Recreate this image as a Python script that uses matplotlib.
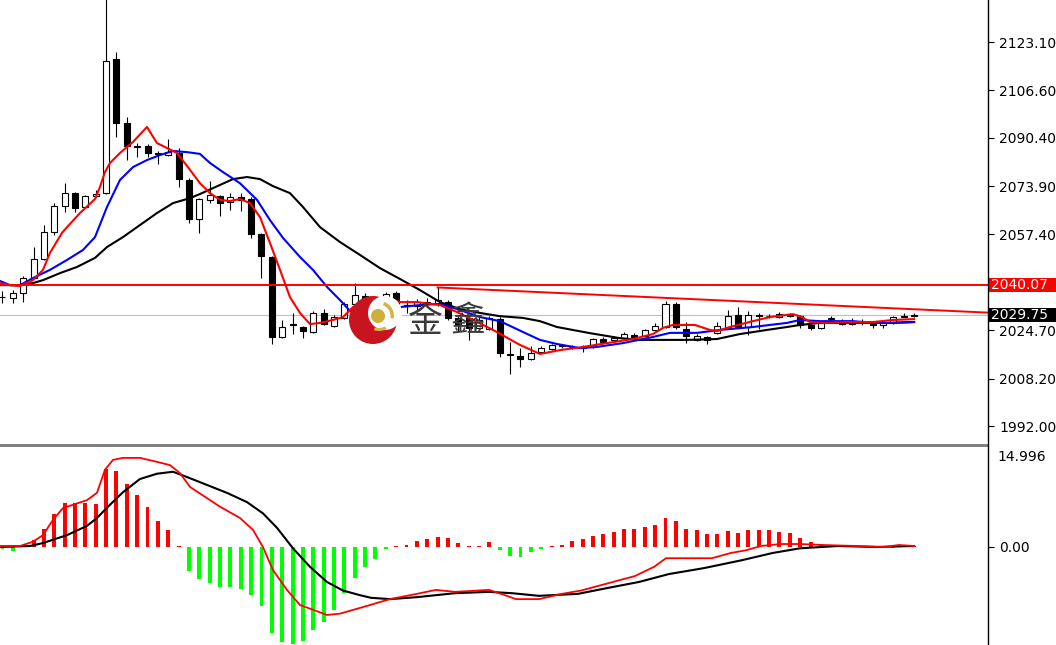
import numpy as np
import matplotlib
matplotlib.use("Agg")
import matplotlib.pyplot as plt
from matplotlib.patches import Rectangle, Circle, Wedge
from matplotlib.transforms import blended_transform_factory

# --- candles (oldest -> newest) ---
opens = [2036.0, 2035.7, 2037.4, 2042.5, 2049.0, 2058.2, 2067.1, 2071.5, 2066.8, 2070.5,
         2071.5, 2117.3, 2095.4, 2087.6, 2087.6, 2084.9, 2084.5, 2085.2, 2076.0, 2062.7,
         2069.2, 2070.5, 2068.5, 2070.2, 2069.5, 2057.6, 2049.7, 2022.4, 2026.5, 2025.8,
         2024.1, 2030.6, 2026.1, 2028.9, 2033.7, 2036.4, 2033.3, 2034.3, 2037.4, 2033.0,
         2033.0, 2034.0, 2033.7, 2034.3, 2028.9, 2028.9, 2025.5, 2025.1, 2028.5, 2016.2,
         2015.9, 2014.9, 2017.3, 2018.3, 2019.3, 2018.9, 2018.6, 2019.0, 2021.7, 2021.4,
         2022.0, 2023.1, 2022.7, 2024.8, 2025.8, 2033.7, 2025.1, 2021.4, 2022.4, 2023.7,
         2025.8, 2029.9, 2025.8, 2029.9, 2029.5, 2029.2, 2030.2, 2029.5, 2026.5, 2025.5,
         2028.5, 2027.8, 2026.8, 2027.8, 2027.2, 2026.5, 2027.2, 2029.2, 2029.5]
highs = [2038.1, 2038.4, 2043.2, 2053.1, 2060.6, 2068.1, 2075.0, 2071.9, 2070.9, 2072.6,
         2139.0, 2119.7, 2097.5, 2088.6, 2088.3, 2085.9, 2090.0, 2086.9, 2076.7, 2069.8,
         2075.6, 2070.9, 2071.5, 2071.5, 2070.2, 2057.9, 2050.0, 2028.2, 2030.6, 2026.1,
         2031.3, 2032.0, 2029.9, 2034.3, 2040.8, 2037.4, 2036.0, 2037.7, 2038.1, 2035.0,
         2035.5, 2035.7, 2039.3, 2035.0, 2029.5, 2029.9, 2029.5, 2029.5, 2029.2, 2020.7,
         2018.6, 2019.3, 2019.3, 2020.0, 2020.0, 2019.7, 2019.7, 2022.0, 2022.4, 2022.7,
         2024.1, 2023.7, 2025.1, 2027.2, 2034.7, 2034.3, 2027.5, 2023.4, 2022.7, 2027.5,
         2031.6, 2032.6, 2031.3, 2030.6, 2030.2, 2030.9, 2030.6, 2029.9, 2026.8, 2027.5,
         2029.5, 2028.5, 2028.9, 2028.5, 2027.5, 2027.5, 2029.5, 2030.6, 2030.6]
lows = [2034.0, 2034.0, 2034.3, 2042.2, 2048.7, 2057.2, 2065.1, 2065.1, 2066.4, 2070.2,
        2071.2, 2090.7, 2082.8, 2083.8, 2083.8, 2081.4, 2084.2, 2073.6, 2061.3, 2057.9,
        2068.1, 2063.7, 2065.7, 2065.4, 2056.2, 2042.5, 2020.0, 2022.0, 2023.4, 2022.0,
        2023.7, 2026.5, 2025.8, 2028.5, 2033.3, 2031.6, 2031.0, 2034.0, 2030.9, 2030.6,
        2031.5, 2033.0, 2033.0, 2028.2, 2024.1, 2021.4, 2024.5, 2024.8, 2015.6, 2009.8,
        2012.1, 2014.5, 2016.9, 2017.9, 2018.6, 2018.3, 2017.3, 2018.6, 2020.3, 2021.0,
        2021.7, 2022.0, 2022.4, 2024.4, 2025.5, 2025.1, 2020.3, 2021.0, 2020.0, 2023.4,
        2025.5, 2025.5, 2023.1, 2025.1, 2028.9, 2028.9, 2029.2, 2025.5, 2024.8, 2025.1,
        2027.8, 2026.5, 2026.5, 2026.5, 2025.5, 2025.5, 2026.8, 2029.2, 2029.2]
closes = [2036.1, 2037.4, 2042.5, 2049.0, 2058.2, 2067.1, 2071.5, 2066.4, 2070.5, 2071.2,
          2116.6, 2095.4, 2087.6, 2087.3, 2085.2, 2085.2, 2085.5, 2076.3, 2062.7, 2069.5,
          2070.9, 2068.1, 2070.2, 2069.2, 2057.6, 2050.0, 2022.4, 2025.8, 2026.8, 2024.4,
          2030.6, 2026.8, 2029.2, 2033.7, 2036.7, 2033.3, 2034.5, 2037.1, 2033.0, 2033.3,
          2034.3, 2034.3, 2035.0, 2028.9, 2026.5, 2025.5, 2028.2, 2028.9, 2017.0, 2016.6,
          2014.9, 2016.9, 2018.6, 2019.7, 2019.5, 2019.0, 2018.9, 2021.7, 2020.7, 2022.0,
          2023.4, 2022.4, 2024.8, 2026.1, 2033.7, 2025.8, 2022.7, 2022.7, 2021.4, 2026.1,
          2029.5, 2025.8, 2029.9, 2029.5, 2029.6, 2030.2, 2029.5, 2026.5, 2025.5, 2027.2,
          2028.9, 2026.8, 2027.8, 2027.2, 2026.5, 2027.2, 2029.2, 2029.5, 2029.75]

# --- moving averages (bar position, price) ---
ma_red_x = [-0.24, 0.72, 1.69, 2.94, 3.91, 4.58, 5.74, 6.23, 7.48, 8.93, 9.41, 9.89, 10.38,
            11.34, 12.6, 13.95, 14.91, 15.88, 16.84, 17.9, 19.06, 20.03, 21.0, 21.96, 22.92,
            23.89, 24.86, 25.82, 26.79, 27.75, 28.72, 29.68, 30.65, 31.9, 32.87, 33.83, 35.18,
            37.11, 38.37, 40.0, 42.23, 43.87, 45.42, 47.35, 49.95, 51.88, 53.81, 56.03, 58.35,
            60.86, 62.79, 63.76, 64.72, 66.84, 68.29, 68.97, 70.22, 72.44, 74.08, 76.3, 77.17,
            77.95, 79.58, 81.52, 84.02, 85.95, 88.0]
ma_red_y = [2040.8, 2040.1, 2039.8, 2041.8, 2045.3, 2051.1, 2057.9, 2059.9, 2064.7, 2069.5,
            2073.6, 2078.7, 2081.8, 2085.2, 2089.0, 2094.1, 2088.6, 2086.9, 2085.2, 2080.4,
            2074.9, 2071.5, 2069.2, 2068.8, 2069.5, 2068.1, 2063.3, 2054.5, 2045.3, 2036.0,
            2030.6, 2026.8, 2027.2, 2028.2, 2029.2, 2032.6, 2035.0, 2035.7, 2034.3, 2034.3,
            2033.3, 2030.9, 2028.2, 2024.8, 2019.7, 2016.6, 2017.9, 2019.0, 2020.3, 2021.7,
            2023.4, 2025.5, 2026.5, 2026.5, 2024.8, 2024.4, 2025.8, 2027.8, 2029.2, 2030.2,
            2029.2, 2027.5, 2027.2, 2027.5, 2027.5, 2028.2, 2028.5]

ma_blue_x = [-0.24, 0.72, 1.69, 2.94, 4.58, 6.23, 7.77, 8.93, 10.09, 11.34, 12.6, 13.95,
             15.2, 16.46, 17.81, 19.06, 20.03, 21.28, 22.92, 24.57, 25.82, 27.08, 28.72,
             29.97, 31.32, 32.58, 33.54, 34.99, 36.73, 38.37, 40.3, 42.23, 44.16, 46.09,
             48.02, 50.24, 51.88, 53.52, 55.74, 57.38, 59.89, 62.79, 64.43, 67.04, 69.26,
             72.44, 75.72, 76.98, 78.91, 82.1, 84.02, 85.95, 88.0]
ma_blue_y = [2041.5, 2040.1, 2040.1, 2042.5, 2045.3, 2048.7, 2052.1, 2056.5, 2066.8, 2076.0,
             2080.4, 2082.8, 2084.5, 2085.9, 2085.5, 2084.9, 2081.8, 2078.7, 2074.9, 2069.2,
             2062.3, 2056.2, 2049.7, 2045.3, 2039.5, 2035.0, 2031.3, 2030.9, 2031.6, 2032.6,
             2033.3, 2033.7, 2031.6, 2029.2, 2027.8, 2024.1, 2021.4, 2020.0, 2018.6, 2019.0,
             2020.3, 2022.4, 2023.8, 2023.8, 2024.8, 2025.8, 2027.2, 2028.2, 2027.8, 2027.8,
             2027.2, 2027.2, 2027.5]

ma_black_x = [-0.24, 1.69, 2.94, 3.91, 5.55, 7.19, 8.93, 10.09, 11.63, 13.27, 14.91, 16.46,
              18.1, 19.06, 21.0, 22.25, 23.6, 24.86, 26.11, 27.75, 29.0, 30.65, 32.58, 34.51,
              36.44, 38.37, 40.3, 42.23, 44.16, 46.09, 48.02, 50.24, 51.88, 53.52, 56.71,
              59.6, 61.53, 63.47, 66.07, 68.97, 71.19, 73.79, 75.72, 76.98, 78.91, 82.1,
              85.38, 88.0]
ma_black_y = [2040.1, 2040.1, 2040.8, 2041.8, 2044.2, 2046.3, 2049.4, 2053.1, 2056.5, 2060.6,
              2064.7, 2068.1, 2069.8, 2071.2, 2074.3, 2076.3, 2077.0, 2076.3, 2073.9, 2071.5,
              2066.8, 2059.9, 2054.8, 2050.4, 2045.9, 2042.2, 2038.4, 2034.3, 2031.9, 2030.6,
              2029.5, 2028.9, 2027.8, 2025.8, 2023.7, 2022.0, 2021.4, 2021.4, 2021.4, 2021.7,
              2023.4, 2024.8, 2025.8, 2026.5, 2027.2, 2027.2, 2027.2, 2027.5]

# --- MACD window ---
hist = [-0.3, -0.6, 0.2, 1.0, 2.7, 5.0, 6.6, 6.6, 6.7, 6.5,
        11.8, 11.5, 9.6, 7.9, 6.0, 4.0, 2.5, 0.1, -3.6, -4.8,
        -5.5, -6.0, -6.0, -6.3, -7.2, -8.9, -13.0, -14.4, -14.7, -14.3,
        -12.6, -11.3, -9.5, -7.0, -4.7, -3.1, -1.8, -0.3, 0.1, 0.3,
        0.9, 1.2, 1.5, 1.3, 0.6, 0.2, 0.2, 0.7, -0.4, -1.3,
        -1.5, -0.8, -0.3, 0.1, 0.3, 0.9, 1.2, 1.7, 2.0, 2.3,
        2.8, 2.8, 3.0, 3.4, 4.4, 3.9, 2.8, 2.5, 1.9, 2.0,
        2.4, 2.1, 2.5, 2.6, 2.5, 2.3, 2.1, 1.4, 0.8, 0.5,
        0.35, 0.2, 0.15, 0.1, 0.05, -0.2, -0.1, 0.1, 0.15]

macd_red_x = [-0.24, 1.69, 2.94, 3.91, 4.87, 5.84, 7.19, 8.16, 9.12, 9.89, 10.67, 11.63,
              13.27, 14.91, 16.17, 17.13, 18.1, 19.74, 21.0, 22.92, 24.18, 25.14, 26.11,
              27.46, 28.72, 29.97, 31.32, 32.58, 34.8, 37.4, 40.0, 41.84, 43.68, 46.96,
              48.5, 49.57, 51.79, 54.0, 55.84, 58.45, 61.05, 62.9, 64.05, 68.48, 70.32,
              71.77, 73.21, 75.14, 76.98, 79.2, 82.48, 85.09, 86.54, 88.0]
macd_red_y = [0.15, 0.15, 0.8, 1.8, 4.1, 5.9, 6.6, 7.1, 8.2, 11.7, 13.2, 13.5,
              13.5, 12.9, 12.4, 11.2, 9.1, 7.4, 6.1, 4.4, 2.6, 0.0, -3.5,
              -6.5, -8.8, -9.5, -10.3, -10.1, -9.1, -7.9, -7.1, -6.5, -6.8, -6.5,
              -7.3, -7.9, -7.9, -7.1, -6.6, -5.5, -4.4, -3.0, -1.7, -1.7, -0.9,
              -0.5, 0.15, 0.45, 0.45, 0.3, 0.15, 0.0, 0.3, 0.15]

macd_black_x = [-0.24, 2.65, 3.91, 6.23, 8.16, 9.12, 10.38, 11.63, 13.27, 14.91, 16.46,
                17.81, 19.74, 21.67, 23.6, 25.14, 26.5, 28.04, 29.68, 31.32, 32.87, 34.51,
                35.57, 37.4, 40.0, 43.68, 46.96, 49.18, 51.79, 55.55, 58.45, 61.44, 64.33,
                67.71, 71.38, 74.37, 76.98, 80.65, 84.31, 88.0]
macd_black_y = [0.0, 0.15, 0.6, 1.8, 3.2, 4.4, 6.4, 8.3, 10.3, 11.1, 11.4,
                10.6, 9.4, 8.2, 6.8, 5.1, 2.9, -0.2, -3.0, -5.3, -6.6, -7.3,
                -7.7, -7.9, -7.6, -7.0, -6.8, -7.0, -7.4, -7.1, -6.2, -5.3, -4.1,
                -3.2, -2.0, -0.9, -0.2, 0.15, 0.0, 0.15]

price_ticks = [2123.10, 2106.60, 2090.40, 2073.90, 2057.40, 2040.90, 2024.70, 2008.20, 1992.00]
level_line = 2040.07
last_price = 2029.75
trend_x = [42.0, 95.2]
trend_y = [2039.3, 2030.7]
macd_top_label = "14.996"
macd_bottom_label = "-16.03"

# --- figure layout (pixel based) ---
W, H = 1056, 645
X_RIGHT = 988
MAIN_BOTTOM = 444
SUB_TOP = 447

fig = plt.figure(figsize=(W / 100, H / 100), dpi=100)
fig.patch.set_facecolor("white")

ax = fig.add_axes([0, 1 - MAIN_BOTTOM / H, X_RIGHT / W, MAIN_BOTTOM / H])
ax2 = fig.add_axes([0, 0, X_RIGHT / W, (H - SUB_TOP) / H])

xlim = (-0.24, 95.13)
idx = np.arange(len(opens))
o = np.array(opens)
c = np.array(closes)

# candles
ax.vlines(idx, lows, highs, color="black", lw=0.8, zorder=2)
up = c >= o
body_lo = np.minimum(o, c)
body_h = np.abs(c - o)
ax.bar(idx[up], body_h[up], bottom=body_lo[up], width=0.58, facecolor="white",
       edgecolor="black", linewidth=0.8, zorder=3)
ax.bar(idx[~up], body_h[~up], bottom=body_lo[~up], width=0.58, facecolor="black",
       edgecolor="black", linewidth=0.8, zorder=3)

# moving averages
ax.plot(ma_black_x, ma_black_y, color="black", lw=1.5, zorder=4)
ax.plot(ma_blue_x, ma_blue_y, color="#0000ff", lw=1.5, zorder=5)
ax.plot(ma_red_x, ma_red_y, color="#ff0000", lw=1.5, zorder=6)

# levels
ax.axhline(last_price, color="#c0c0c0", lw=0.8, zorder=1)
ax.axhline(level_line, color="#ff0000", lw=1.4, zorder=7)
ax.plot(trend_x, trend_y, color="#ff0000", lw=1.4, zorder=7)

ax.set_xlim(*xlim)
ax.set_ylim(2137.44, 1985.86)
ax.invert_yaxis()
ax.set_ylim(1985.86, 2137.44)
ax.set_yticks(price_ticks)
ax.set_yticklabels(["%.2f" % v for v in price_ticks])

# right side price boxes
tr = blended_transform_factory(ax.transAxes, ax.transData)
box_w = (W - X_RIGHT) / X_RIGHT
box_h = 14 * (2137.44 - 1985.86) / MAIN_BOTTOM
for val, col in [(level_line, "#ff0000"), (last_price, "black")]:
    ax.add_patch(Rectangle((1.0, val - box_h / 2), box_w, box_h, transform=tr,
                           facecolor=col, edgecolor="none", clip_on=False, zorder=20))
    ax.text(1.0 + 3 / X_RIGHT, val, "%.2f" % val, transform=tr, color="white",
            fontsize=10, va="center", ha="left", clip_on=False, zorder=21)

# MACD
hv = np.array(hist)
ax2.bar(idx[hv >= 0], hv[hv >= 0], width=0.38, color="#ff0000", zorder=2)
ax2.bar(idx[hv < 0], hv[hv < 0], width=0.38, color="#00ff00", zorder=2)
ax2.plot(macd_black_x, macd_black_y, color="black", lw=1.5, zorder=3)
ax2.plot(macd_red_x, macd_red_y, color="#ff0000", lw=1.3, zorder=4)
ax2.set_xlim(*xlim)
ax2.set_ylim(-14.85, 15.15)
ax2.set_yticks([0])
ax2.set_yticklabels(["0.00"])
ax2.text(1.0 + 9 / X_RIGHT, 1.0 - 3 / (H - SUB_TOP), macd_top_label, transform=ax2.transAxes,
         fontsize=10, va="top", ha="left", clip_on=False)
ax2.text(1.0 + 9 / X_RIGHT, -6 / (H - SUB_TOP), macd_bottom_label, transform=ax2.transAxes,
         fontsize=10, va="top", ha="left", clip_on=False)

for a in (ax, ax2):
    for s in a.spines.values():
        s.set_visible(False)
    a.set_xticks([])
    a.yaxis.tick_right()
    a.tick_params(axis="y", direction="out", length=4, width=0.8, pad=4,
                  labelsize=10, colors="black")
    a.set_facecolor("white")

# overlay for separator, axis line and the watermark
ov = fig.add_axes([0, 0, 1, 1], zorder=10)
ov.set_xlim(0, W)
ov.set_ylim(H, 0)
ov.axis("off")
ov.patch.set_alpha(0)
ov.add_patch(Rectangle((0, 444), X_RIGHT, 3, color="#808080", lw=0))
ov.plot([X_RIGHT, X_RIGHT], [0, H], color="black", lw=1.0)

ov.add_patch(Circle((373, 320), 24, color="#c8141e", lw=0))
ov.add_patch(Circle((385, 313), 17, color="white", lw=0))
ov.add_patch(Wedge((379, 316), 15, -70, 10, width=3.5, color="#d8b445", lw=0))
ov.add_patch(Wedge((379, 316), 15, 60, 110, width=3, color="#d8b445", lw=0))
ov.add_patch(Circle((378, 316), 7, color="#cfae3a", lw=0))
cjk = ["Noto Sans CJK SC", "DejaVu Sans"]
ov.text(425, 322, "金", family=cjk, fontsize=25, color="#3a3a3a", ha="center", va="center")
ov.text(468, 322, "鑫", family=cjk, fontsize=25, color="#3a3a3a", ha="center", va="center")

fig.savefig("out.png", dpi=100)
